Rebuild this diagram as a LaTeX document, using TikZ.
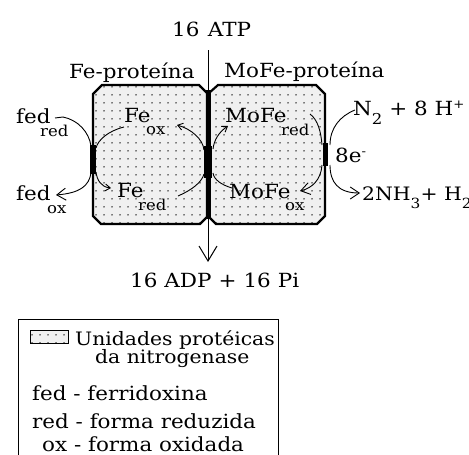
\documentclass[tikz,border=0pt]{standalone}
\usepackage{fontspec}
\setmainfont{DejaVu Serif}[FakeStretch=1.1]
\usetikzlibrary{arrows.meta,patterns.meta}
\newcommand\wsp{\hspace{7pt}}
\newcommand\wspb{\hspace{8.5pt}}
\begin{document}
\begin{tikzpicture}[x=1pt,y=-1pt,
  lbl/.style={anchor=base west,inner sep=0pt,text depth=0pt,font=\fontsize{19.5}{21}\selectfont},
  leglbl/.style={anchor=base west,inner sep=0pt,text depth=0pt,font=\fontsize{18.5}{20}\selectfont},
  sublbl/.style={anchor=base west,inner sep=0pt,text depth=0pt,font=\fontsize{15}{16}\selectfont},
  boxline/.style={line width=2.2pt,line join=miter},
  dotfill/.style={preaction={fill=black!6},pattern={Dots[distance=8pt,radius=0.75pt]}},
  conn/.style={line width=0.9pt},
  bigbarb/.style={conn,-{Straight Barb[length=9pt,width=12pt,line width=0.9pt]}},
  smallbarb/.style={conn,-{Straight Barb[length=5pt,width=7pt,line width=0.9pt]}},
  seg/.style={line width=#1,line cap=butt}
]
\useasboundingbox (0,0) rectangle (469,455);
\fill[white] (0,0) rectangle (469,455);

% protein boxes
\path[dotfill] (93,94) -- (102,85) -- (199,85) -- (207,93) -- (207,217) -- (200,224) -- (101,224) -- (93,216) -- cycle;
\path[dotfill] (209,93) -- (218,85) -- (316,85) -- (325,94) -- (325,216) -- (317,224) -- (216,224) -- (209,217) -- cycle;
\draw[boxline] (93,94) -- (102,85) -- (199,85) -- (207,93) -- (207,217) -- (200,224) -- (101,224) -- (93,216) -- cycle;
\draw[boxline] (209,93) -- (218,85) -- (316,85) -- (325,94) -- (325,216) -- (317,224) -- (216,224) -- (209,217) -- cycle;

% thick black contact segments
\draw[seg=6pt] (93,145) -- (93,174);
\draw[seg=5pt] (208,90) -- (208,219);
\draw[seg=8pt] (208,146) -- (208,178);
\draw[seg=5pt] (325,143) -- (325,166);

% labels
\node[lbl] (atp) at (172,36) {16\wspb ATP};
\node[lbl] (feprot) at (69,78) {Fe-proteína};
\node[lbl] (mofeprot) at (224,77) {MoFe-proteína};
\node[lbl] (fedr) at (16,123) {fed};
\node[sublbl] (fedrs) at (40,136) {red};
\node[lbl] (feo) at (124,122) {Fe};
\node[sublbl] (feos) at (146,134) {ox};
\node[lbl] (mofer) at (225,122) {MoFe};
\node[sublbl] (mofers) at (281,135) {red};
\node[lbl] (n2) at (353,115) {N\raisebox{-9pt}{\fontsize{15}{15}\selectfont 2} + 8 H\raisebox{7pt}{\fontsize{12}{12}\selectfont +}};
\node[lbl] (e8) at (335,162) {8e\raisebox{7pt}{\fontsize{12}{12}\selectfont -}};
\node[lbl] (fedo) at (16,200) {fed};
\node[sublbl] (fedos) at (47,213) {ox};
\node[lbl] (fer) at (117,197) {Fe};
\node[sublbl] (fers) at (138,210) {red};
\node[lbl] (mofeo) at (229,198) {MoFe};
\node[sublbl] (mofeos) at (285,210) {ox};
\node[leglbl] (nh3) at (362,200) {2NH\raisebox{-8pt}{\fontsize{14}{14}\selectfont 3}+ H\raisebox{-8pt}{\fontsize{14}{14}\selectfont 2}};
\node[lbl] (adp) at (130,287) {16\wsp ADP\wsp +\wsp 16\wsp Pi};

% connector coordinates
\coordinate (atpend) at (208,50);
\coordinate (adpend) at (208,262);
\coordinate (fedrA) at (55,118);
\coordinate (fedrB) at (63,117);
\coordinate (lsegT) at (91,146);
\coordinate (lsegB) at (91,173);
\coordinate (fedoTip) at (56,195);
\coordinate (feoStart) at (124,127);
\coordinate (lsegTi) at (96,148);
\coordinate (lsegBi) at (96,172);
\coordinate (ferTip) at (111,188);
\coordinate (ferStart) at (178,196);
\coordinate (csegBl) at (204,174);
\coordinate (csegTl) at (204,150);
\coordinate (feoTip) at (177,125);
\coordinate (mofeoStart) at (232,188);
\coordinate (csegBr) at (213,173);
\coordinate (csegTr) at (213,149);
\coordinate (moferTip) at (228,126);
\coordinate (moferStart) at (310,114);
\coordinate (rsegTl) at (322,145);
\coordinate (rsegBl) at (322,165);
\coordinate (mofeoTip) at (300,191);
\coordinate (n2Start) at (355,110);
\coordinate (rsegTr) at (330,145);
\coordinate (rsegBr) at (330,165);
\coordinate (nh3Tip) at (360,193);

% central ATP -> ADP arrow
\draw[conn,-{Straight Barb[length=15pt,width=18pt,line width=1pt]}] (atpend) -- (adpend);

% ferredoxin cycle
\draw[conn] (fedrA) -- (fedrB) .. controls (78,120) and (89,132) .. (lsegT);
\draw[bigbarb] (lsegB) .. controls (89,186) and (80,193) .. (fedoTip);
% Fe protein
\draw[conn] (feoStart) .. controls (108,131) and (98,140) .. (lsegTi);
\draw[smallbarb] (lsegBi) .. controls (97,180) and (101,187) .. (ferTip);
\draw[conn] (ferStart) .. controls (192,190) and (202,182) .. (csegBl);
\draw[smallbarb] (csegTl) .. controls (203,139) and (191,129) .. (feoTip);
% MoFe protein
\draw[conn] (mofeoStart) .. controls (222,185) and (214,180) .. (csegBr);
\draw[smallbarb] (csegTr) .. controls (214,140) and (219,132) .. (moferTip);
\draw[conn] (moferStart) .. controls (318,120) and (321,132) .. (rsegTl);
\draw[bigbarb] (rsegBl) .. controls (321,180) and (312,188) .. (mofeoTip);
% N2 -> NH3
\draw[conn] (n2Start) .. controls (340,116) and (330,128) .. (rsegTr);
\draw[bigbarb] (rsegBr) .. controls (330,182) and (338,193) .. (nh3Tip);

% legend
\draw[line width=1pt] (18,470) -- (18,319) -- (278,319) -- (278,470);
\draw[line width=0.8pt,dotfill] (30,330) rectangle (68,343);
\node[leglbl] (leg1) at (75,345) {Unidades protéicas};
\node[leglbl] (leg2) at (95,363) {da nitrogenase};
\node[lbl] (leg3) at (32,400) {fed - ferridoxina};
\node[lbl] (leg4) at (32,428) {red - forma reduzida};
\node[lbl] (leg5) at (42,451) {ox - forma oxidada};
\end{tikzpicture}
\end{document}
